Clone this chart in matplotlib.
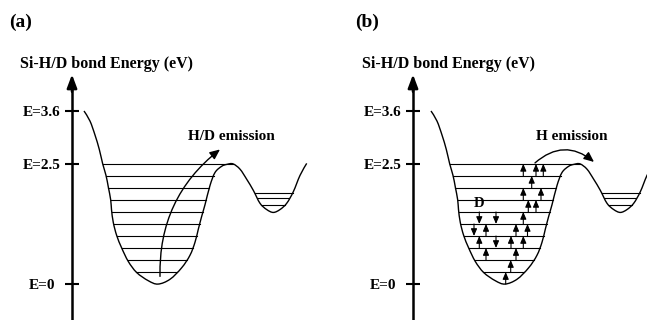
import numpy as np
import matplotlib
matplotlib.use('Agg')
import matplotlib.pyplot as plt
from matplotlib.path import Path
from matplotlib.patches import PathPatch

plt.rcParams['font.family'] = ['Liberation Serif', 'DejaVu Serif']
plt.rcParams['font.weight'] = 'bold'

# ---- data (configuration coordinate in arb. units, energy in eV) ----
curve_q = [-7.4, -6.8, -6.3, -5.87, -5.53, -5.2, -4.97, -4.73, -4.65, -4.47,
           -4.13, -3.63, -2.97, -2.13, -0.97, 0.0, 1.2, 2.37, 3.2, 3.7,
           4.03, 4.37, 4.7, 5.2, 5.7, 6.37, 6.9, 7.5, 8.2, 8.87,
           9.53, 10.2, 10.87, 11.53, 12.2, 12.87, 13.53, 14.2, 14.87]
curve_E = [3.6, 3.39, 3.10, 2.80, 2.50, 2.26, 2.02, 1.75, 1.55, 1.28,
           1.01, 0.75, 0.47, 0.24, 0.07, 0.0, 0.10, 0.34, 0.60, 0.87,
           1.14, 1.41, 1.65, 2.05, 2.32, 2.45, 2.49, 2.50, 2.39, 2.18,
           1.95, 1.68, 1.55, 1.49, 1.55, 1.68, 1.92, 2.26, 2.51]
level_E = [2.5, 2.25, 2.0, 1.75, 1.5, 1.25, 1.0, 0.75, 0.5, 0.25]
well2_level_E = [1.90, 1.78, 1.65]
tick_E = [0, 2.5, 3.6]
tick_labels = ['E=0', 'E=2.5', 'E=3.6']

# vibrational excitation / relaxation arrows of panel (b)
arrow_q = [1.83, 3.1, 3.83, 2.67, 1.83, 3.6, 2.33, 3.1, -2.57, -0.9,
           1.83, -3.1, -1.9, 1.1, 2.25, -2.57, 0.6, 1.83, -0.9, -1.9,
           1.1, 0.57, 0.07]
arrow_E0 = [2.25, 2.25, 2.25, 2.0, 1.75, 1.75, 1.5, 1.5, 1.5, 1.5,
            1.25, 1.25, 1.0, 1.0, 1.0, 0.75, 0.75, 0.75, 1.0, 0.5,
            0.5, 0.25, 0.0]
arrow_E1 = [2.5, 2.5, 2.5, 2.25, 2.0, 2.0, 1.75, 1.75, 1.25, 1.25,
            1.5, 1.0, 1.25, 1.25, 1.25, 1.0, 1.0, 1.0, 0.75, 0.75,
            0.75, 0.5, 0.25]

# emission arrows: (start q, start E, end q, end E)
emission_a = (0.2, 0.16, 6.2, 2.80)
emission_b = (3.0, 2.52, 8.9, 2.54)

panels = ['(a)', '(b)']
ylabel = 'Si-H/D bond Energy (eV)'
emission_text = ['H/D emission', 'H emission']

# ---- layout ----
W, H = 647, 320
fig = plt.figure(figsize=(W / 100, H / 100), dpi=100)
ylim = (-0.747, 5.908)
q = np.array(curve_q)
E = np.array(curve_E)
imin = int(np.argmin(E[:25]))
ipeak = imin + int(np.argmax(E[imin:30]))
imin2 = ipeak + int(np.argmin(E[ipeak:]))


def span(Ev, lo, mid, hi):
    left = np.interp(Ev, E[lo:mid + 1][::-1], q[lo:mid + 1][::-1])
    right = np.interp(Ev, E[mid:hi + 1], q[mid:hi + 1])
    return left, right


def smooth_path(xs, ys):
    """Bezier path passing through the read points (Catmull-Rom tangents)."""
    pts = np.column_stack([xs, ys])
    n = len(pts)
    verts = [pts[0]]
    codes = [Path.MOVETO]
    for k in range(n - 1):
        p0 = pts[max(k - 1, 0)]
        p1 = pts[k]
        p2 = pts[k + 1]
        p3 = pts[min(k + 2, n - 1)]
        c1 = p1 + (p2 - p0) / 6.0
        c2 = p2 - (p3 - p1) / 6.0
        verts += [c1, c2, p2]
        codes += [Path.CURVE4] * 3
    return Path(verts, codes)


setups = [
    dict(rect=[0, 0, 0.5, 1], xlim=(-15.8, 16.55), axis_q=-8.6),
    dict(rect=[0.5, 0, 0.5, 1], xlim=(-18.15, 14.2), axis_q=-9.2),
]

axes = []
for i, s in enumerate(setups):
    ax = fig.add_axes(s['rect'])
    ax.set_xlim(*s['xlim'])
    ax.set_ylim(*ylim)
    ax.patch.set_alpha(0)
    for sp in ['top', 'right', 'bottom']:
        ax.spines[sp].set_visible(False)
    ax.spines['left'].set_position(('data', s['axis_q']))
    ax.spines['left'].set_bounds(ylim[0], 4.1)
    ax.spines['left'].set_linewidth(1.8)
    ax.set_xticks([])
    ax.set_yticks(tick_E)
    ax.set_yticklabels(tick_labels, fontsize=11, fontweight='bold')
    ax.tick_params(axis='y', direction='inout', length=9.4, width=1.5, pad=17)
    for lbl in ax.get_yticklabels():
        lbl.set_horizontalalignment('center')
    # arrow head of energy axis
    ax.annotate('', xy=(s['axis_q'], 4.36), xytext=(s['axis_q'], 4.0),
                arrowprops=dict(arrowstyle='-|>,head_length=0.8,head_width=0.3',
                                mutation_scale=10, lw=1.8, color='black',
                                shrinkA=0, shrinkB=0), annotation_clip=False)
    # potential curve
    ax.add_patch(PathPatch(smooth_path(q, E), facecolor='none',
                           edgecolor='black', lw=1.0))
    # levels in main well
    for Ev in level_E:
        l, r = span(Ev, 0, imin, ipeak)
        ax.plot([l, r], [Ev, Ev], color='black', lw=0.8)
    # levels in second well
    for Ev in well2_level_E:
        l, r = span(Ev, ipeak, imin2, len(E) - 1)
        ax.plot([l, r], [Ev, Ev], color='black', lw=0.8)
    axes.append(ax)

axA, axB = axes

# emission arrow (a)
axA.annotate('', xy=emission_a[2:], xytext=emission_a[:2],
             arrowprops=dict(arrowstyle='-|>,head_length=0.5,head_width=0.22',
                             mutation_scale=12, lw=1.0, color='black',
                             connectionstyle='arc3,rad=-0.25',
                             shrinkA=0, shrinkB=0))
# emission arrow (b)
axB.annotate('', xy=emission_b[2:], xytext=emission_b[:2],
             arrowprops=dict(arrowstyle='-|>,head_length=0.5,head_width=0.22',
                             mutation_scale=12, lw=1.0, color='black',
                             connectionstyle='arc3,rad=-0.42',
                             shrinkA=0, shrinkB=0))

# small transition arrows (b)
for xq, e0, e1 in zip(arrow_q, arrow_E0, arrow_E1):
    axB.annotate('', xy=(xq, e1), xytext=(xq, e0),
                 arrowprops=dict(arrowstyle='-|>,head_length=0.7,head_width=0.3',
                                 mutation_scale=6, lw=0.8, color='black',
                                 shrinkA=0, shrinkB=0))
axB.text(-2.6, 1.67, 'D', fontsize=10.5, fontweight='bold', ha='center', va='center')

# texts
fig.text(9 / W, 1 - 22 / H, panels[0], fontsize=14, fontweight='bold', va='center', ha='left')
fig.text(355 / W, 1 - 22 / H, panels[1], fontsize=14, fontweight='bold', va='center', ha='left')
fig.text(20 / W, 1 - 64 / H, ylabel, fontsize=11.5, fontweight='bold', va='center', ha='left')
fig.text(362 / W, 1 - 64 / H, ylabel, fontsize=11.5, fontweight='bold', va='center', ha='left')
fig.text(188 / W, 1 - 136 / H, emission_text[0], fontsize=11, fontweight='bold', va='center', ha='left')
fig.text(536 / W, 1 - 136 / H, emission_text[1], fontsize=11, fontweight='bold', va='center', ha='left')

fig.savefig('out.png', dpi=100, facecolor='white')
